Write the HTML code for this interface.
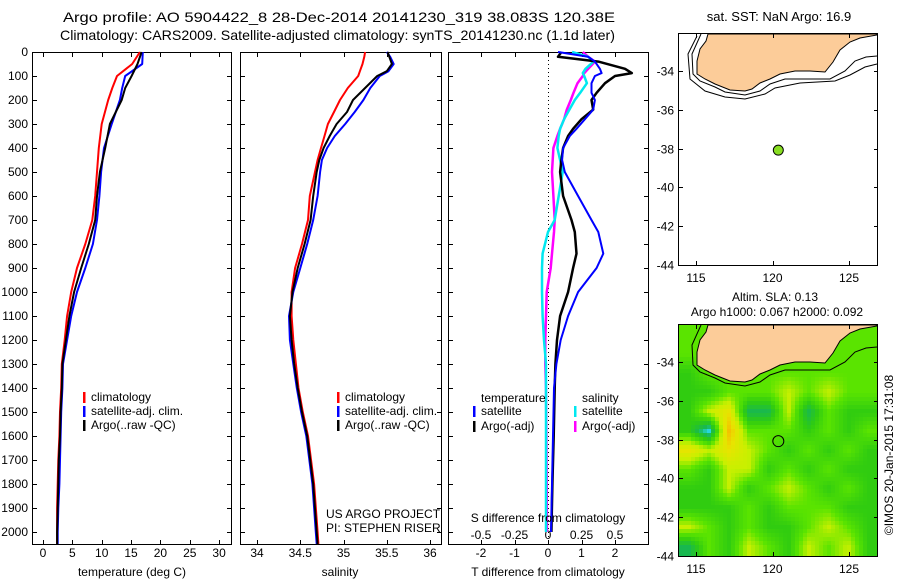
<!DOCTYPE html>
<html><head><meta charset="utf-8"><style>
html,body{margin:0;padding:0;background:#fff;width:900px;height:580px;overflow:hidden}
svg{display:block;font-family:"Liberation Sans",sans-serif}
text{font-size:12px;fill:#000}
</style></head><body>
<svg id="fig" width="900" height="580" viewBox="0 0 900 580">
<defs>
<clipPath id="m2clip"><rect x="679" y="325" width="199" height="231"/></clipPath>
</defs>
<text x="63" y="22" textLength="552" lengthAdjust="spacingAndGlyphs" style="font-size:14px">Argo profile: AO 5904422_8 28-Dec-2014 20141230_319 38.083S 120.38E</text>
<text x="60" y="40" textLength="555" lengthAdjust="spacingAndGlyphs" style="font-size:14px">Climatology: CARS2009. Satellite-adjusted climatology: synTS_20141230.nc (1.1d later)</text>
<g id="g"></g>
</svg>
<script>
// ---- profile data ----
const depthT = [0,50,100,150,200,300,400,500,600,700,800,900,1000,1100,1200,1300,1400,1500,1600,1700,1800,1900,2000,2050];
const tempClim = [16.5,15.2,12.6,11.8,11.1,10.0,9.5,9.2,8.9,8.4,7.2,5.8,4.8,4.1,3.7,3.2,3.1,2.9,2.8,2.6,2.5,2.4,2.4,2.4];
const tempSat  = [17.0,16.9,14.0,13.5,13.1,11.7,10.4,9.9,9.6,9.2,8.5,7.2,5.8,4.8,4.1,3.4,3.3,3.1,3.0,2.9,2.8,2.6,2.5,2.5];
const tempArgo = [16.8,16.1,15.1,14.0,13.4,11.4,10.6,9.7,9.2,8.9,7.8,6.5,5.3,4.5,3.9,3.3,3.2,3.0,2.9,2.7,2.6,2.5,2.4,2.4];
const depthS = [0,20,50,80,100,150,200,250,300,350,400,450,500,600,700,800,900,1000,1100,1200,1300,1400,1500,1600,1800,2000,2050];
const salClim = [35.25,35.24,35.22,35.19,35.17,35.05,34.96,34.89,34.82,34.78,34.74,34.70,34.67,34.61,34.59,34.52,34.44,34.40,34.40,34.42,34.45,34.48,34.53,34.59,34.66,34.70,34.71];
const salSat  = [35.50,35.54,35.58,35.52,35.42,35.31,35.23,35.13,35.02,34.90,34.81,34.75,34.73,34.70,34.65,34.58,34.50,34.42,34.37,34.38,34.42,34.46,34.51,34.57,34.64,34.68,34.69];
const salArgo = [35.51,35.53,35.56,35.50,35.39,35.25,35.11,35.04,34.92,34.84,34.77,34.72,34.69,34.65,34.62,34.55,34.47,34.41,34.38,34.40,34.43,34.47,34.52,34.58,34.65,34.69,34.70];
const depthD = [0,20,40,70,88,100,130,170,200,240,280,320,350,400,450,500,600,700,750,840,900,1000,1100,1200,1300,1400,1600,1800,2000];
const dTsat  = [0.3,1.2,1.4,1.55,1.6,1.4,1.3,1.3,1.4,1.35,1.1,0.85,0.65,0.45,0.42,0.5,0.9,1.3,1.5,1.65,1.45,0.9,0.6,0.38,0.25,0.18,0.15,0.12,0.09];
const dTargo = [0.4,0.3,1.5,2.3,2.5,2.0,1.7,1.45,1.3,1.35,1.0,0.75,0.6,0.45,0.4,0.36,0.45,0.7,0.8,0.85,0.75,0.6,0.36,0.27,0.22,0.2,0.17,0.13,0.1];
const dSsat  = [0.18,0.3,0.34,0.28,0.26,0.27,0.29,0.24,0.2,0.16,0.12,0.09,0.08,0.07,0.09,0.11,0.08,0.05,0.0,-0.04,-0.045,-0.045,-0.04,-0.03,-0.015,-0.015,-0.015,-0.015,-0.015];
const dSargo = [0.26,0.3,0.35,0.3,0.27,0.26,0.22,0.19,0.17,0.14,0.12,0.09,0.07,0.04,0.035,0.03,0.04,0.05,0.045,0.03,0.02,-0.01,-0.015,-0.02,-0.02,-0.015,-0.012,-0.01,-0.008];
const depthTicks = [0,100,200,300,400,500,600,700,800,900,1000,1100,1200,1300,1400,1500,1600,1700,1800,1900,2000];
const tempTicks = [0,5,10,15,20,25,30];
const salTicks = [34,34.5,35,35.5,36];
const tdTicks = [-2,-1,0,1,2];
const sdTicks = [-0.5,-0.25,0,0.25,0.5];
const lonTicks = [115,120,125];
const latTicks = [-34,-36,-38,-40,-42,-44];
const argoLon = 120.38, argoLat = -38.08;
// SLA level grid (rows north->south), 0 cyan ... 6 orange
const slaLevels = [
[3,3,3,3,3,3,3,3,3,3],
[3,3,3,3,3,3,3,3,3,3],
[2,3,3,3,3,3,3,3,3,3],
[2,2,3,3,3,4,3,4,3,3],
[2,4,5,1,1,4,1,3,2,2],
[2,0,6,3,3,3,2,3,2,3],
[5,4,5,4,3,2,3,2,3,2],
[3,2,4,4,2,3,2,3,2,2],
[2,2,4,2,3,4,3,2,3,2],
[2,2,2,3,2,3,3,3,2,2],
[4,3,2,3,2,2,3,4,3,2],
[1,3,2,4,3,2,4,3,4,2]];

const NS='http://www.w3.org/2000/svg';
const G=document.getElementById('g');
function el(tag,attrs,parent){const e=document.createElementNS(NS,tag);for(const k in attrs)e.setAttribute(k,attrs[k]);(parent||G).appendChild(e);return e;}
function txt(x,y,s,anchor,parent){const t=el('text',{x:x,y:y,'text-anchor':anchor||'start'},parent);t.textContent=s;return t;}
const yD=d=>52+d*0.24;
const TOP=52,BOT=544;
const xT=v=>43+v*5.87;
const xS=v=>257+(v-34)*86.5;
const xTD=v=>548+v*33.5;
const xSD=v=>548+v*134;

function panel(x0,x1,name){
  const r=el('rect',{x:x0+0.5,y:TOP+0.5,width:x1-x0,height:BOT-TOP,fill:'none',stroke:'#000','stroke-width':1});
  
  
  depthTicks.forEach(d=>{
    const y=Math.round(yD(d))+0.5;
    const a=el('line',{x1:x0,x2:x0+5,y1:y,y2:y,stroke:'#000'});
    
    
    el('line',{x1:x1-4,x2:x1+1,y1:y,y2:y,stroke:'#000'});
  });
}
function xticks(vals,fx,labels,ly,name){
  vals.forEach((v,i)=>{
    const x=Math.round(fx(v))+0.5;
    const t=el('line',{x1:x,x2:x,y1:TOP,y2:TOP+5,stroke:'#000'});
    
    
    el('line',{x1:x,x2:x,y1:BOT-4,y2:BOT+1,stroke:'#000'});
    if(labels){const l=txt(fx(v),ly,labels[i],'middle');
      
      }
  });
}
function line(xs,ds,fx,color,name,w){
  const pts=xs.map((v,i)=>fx(v).toFixed(1)+','+yD(ds[i]).toFixed(1)).join(' ');
  const p=el('polyline',{points:pts,fill:'none',stroke:color,'stroke-width':w||2,'stroke-linejoin':'round'});
  
  
}
function legend(x,y,color,label,name){
  const b=el('rect',{x:x,y:y-9,width:2.5,height:11,fill:color});
  
  
  const t=txt(x+8,y,label);
  
  
}

depthTicks.forEach(d=>{const t=txt(28,yD(d)+4,String(d),'end');
  
  });

// Panel 1 temperature
panel(32,231,'temperature-panel');
xticks(tempTicks,xT,tempTicks.map(String),557,'temperature');
line(tempClim,depthT,xT,'#ff0000','temp-climatology-line');
line(tempSat,depthT,xT,'#0000ff','temp-satellite-line');
line(tempArgo,depthT,xT,'#000000','temp-argo-line');
txt(132,576,'temperature (deg C)','middle');
legend(83,401,'#ff0000','climatology','legend-climatology');
legend(83,415,'#0000ff','satellite-adj. clim.','legend-satellite');
legend(83,429,'#000000','Argo(..raw -QC)','legend-argo');

// Panel 2 salinity
panel(240,441,'salinity-panel');
xticks(salTicks,xS,['34','34.5','35','35.5','36'],557,'salinity');
line(salClim,depthS,xS,'#ff0000','sal-climatology-line');
line(salSat,depthS,xS,'#0000ff','sal-satellite-line');
line(salArgo,depthS,xS,'#000000','sal-argo-line');
txt(340,576,'salinity','middle');
legend(337,401,'#ff0000','climatology','legend2-climatology');
legend(337,415,'#0000ff','satellite-adj. clim.','legend2-satellite');
legend(337,429,'#000000','Argo(..raw -QC)','legend2-argo');
txt(326,518,'US ARGO PROJECT');
txt(326,532,'PI: STEPHEN RISER');

// Panel 3 differences
panel(448,648,'difference-panel');
el('line',{x1:548.5,x2:548.5,y1:TOP,y2:BOT,stroke:'#000','stroke-dasharray':'1,3'});
xticks(tdTicks,xTD,tdTicks.map(String),557,'tdiff');
sdTicks.forEach(v=>{const l=txt(xSD(v),539,String(v),'middle');
  
  });
line(dSargo,depthD,xSD,'#ff00ff','sdiff-argo-line',2.5);
line(dSsat,depthD,xSD,'#00e8f0','sdiff-satellite-line',2.5);
line(dTargo,depthD,xTD,'#000000','tdiff-argo-line',2.5);
line(dTsat,depthD,xTD,'#0000ff','tdiff-satellite-line',2);
txt(548,522,'S difference from climatology','middle');
txt(548,576,'T difference from climatology','middle');
txt(481,402,'temperature');
legend(473,415,'#0000ff','satellite','legend3-t-satellite');
legend(473,430,'#000000','Argo(-adj)','legend3-t-argo');
txt(582,402,'salinity');
legend(574,415,'#00e8f0','satellite','legend3-s-satellite');
legend(574,430,'#ff00ff','Argo(-adj)','legend3-s-argo');

// ---- maps ----
const mx=lon=>696+(lon-115)*15.3;
const myOf=base=>lat=>base+(-34-lat)*19.4;
const land=[[708,0],[706,7],[700,15],[697,27],[697,40],[705,45],[715,50],[730,56],[745,57],[752,55],[760,49],[770,45],[780,40],[795,37],[810,37],[825,38],[833,28],[840,16],[850,8],[860,4],[877,1],[877,0]];
const cont1=[[701,0],[692,20],[693,40],[700,47],[715,53],[725,58],[745,61],[760,57],[770,50],[785,45],[810,45],[830,45],[845,37],[855,27],[866,23],[877,22]];
const cont2=[[697,2],[688,20],[690,45],[705,57],[725,63],[745,65],[765,60],[775,54],[800,49],[835,47],[850,41],[865,33],[877,30]];
const stops=[[40,216,232],[24,184,80],[48,204,16],[90,228,0],[200,240,0],[232,228,0],[244,192,0]];
function levelColor(v){
  const i=Math.max(0,Math.min(5,Math.floor(v))),f=Math.max(0,Math.min(1,v-i));
  const a=stops[i],b=stops[i+1];
  return 'rgb('+a.map((c,k)=>Math.round(c+(b[k]-c)*f)).join(',')+')';
}
function drawMap(top,bot,name,heat){
  const g=el('g',{});
  
  
  const my=myOf(top+37);
  if(heat){
    const hg=el('g',{'clip-path':'url(#m2clip)'},g);
    
    const cw=199/10,ch=(bot-top)/12,S=4;
    const nr=slaLevels.length,nc=slaLevels[0].length;
    for(let y=top;y<bot;y+=S){for(let x=679;x<878;x+=S){
      let gx=(x+S/2-679)/cw-0.5, gy=(y+S/2-top)/ch-0.5;
      gx=Math.max(0,Math.min(nc-1.001,gx)); gy=Math.max(0,Math.min(nr-1.001,gy));
      const c0=Math.floor(gx),r0=Math.floor(gy),fx=gx-c0,fy=gy-r0;
      const v=(slaLevels[r0][c0]*(1-fx)+slaLevels[r0][c0+1]*fx)*(1-fy)+(slaLevels[r0+1][c0]*(1-fx)+slaLevels[r0+1][c0+1]*fx)*fy;
      el('rect',{x:x,y:y,width:S+0.5,height:S+0.5,fill:levelColor(v)},hg);
    }}
  }
  const poly=el('polygon',{points:land.map(p=>p[0]+','+(p[1]+top)).join(' '),fill:'#fccc99',stroke:'#000','stroke-width':1},g);
  
  el('polyline',{points:cont1.map(p=>p[0]+','+(p[1]+top)).join(' '),fill:'none',stroke:'#000','stroke-width':1},g);
  if(!heat) el('polyline',{points:cont2.map(p=>p[0]+','+(p[1]+top)).join(' '),fill:'none',stroke:'#000','stroke-width':1},g);
  el('rect',{x:678.5,y:top-0.5,width:199,height:bot-top+1,fill:'none',stroke:'#000'},g);
  lonTicks.forEach(l=>{const x=Math.round(mx(l))+0.5;
    el('line',{x1:x,x2:x,y1:top,y2:top+4,stroke:'#000'},g);
    el('line',{x1:x,x2:x,y1:bot-4,y2:bot,stroke:'#000'},g);
    const t=txt(mx(l),bot+17,String(l),'middle',g);
    
    });
  latTicks.forEach(l=>{const y=Math.round(my(l))+0.5;
    el('line',{x1:679,x2:683,y1:y,y2:y,stroke:'#000'},g);
    el('line',{x1:874,x2:878,y1:y,y2:y,stroke:'#000'},g);
    const t=txt(674,y+4,String(l),'end',g);
    
    });
  const dot=el('circle',{cx:mx(argoLon),cy:my(argoLat),r:heat?5.5:5,fill:heat?'none':'#88dd22',stroke:'#000'},g);
  
  
}
drawMap(34,265,'sst-map',false);
drawMap(325,556,'sla-map',true);
const st=txt(779,21,'sat. SST: NaN Argo: 16.9','middle');
st.setAttribute('style','font-size:13px');


txt(775,301,'Altim. SLA: 0.13','middle');
txt(777,316,'Argo h1000: 0.067 h2000: 0.092','middle');
const cp=txt(0,0,'©IMOS 20-Jan-2015 17:31:08','middle');
cp.setAttribute('transform','translate(893,455) rotate(-90)');


</script>
</body></html>
